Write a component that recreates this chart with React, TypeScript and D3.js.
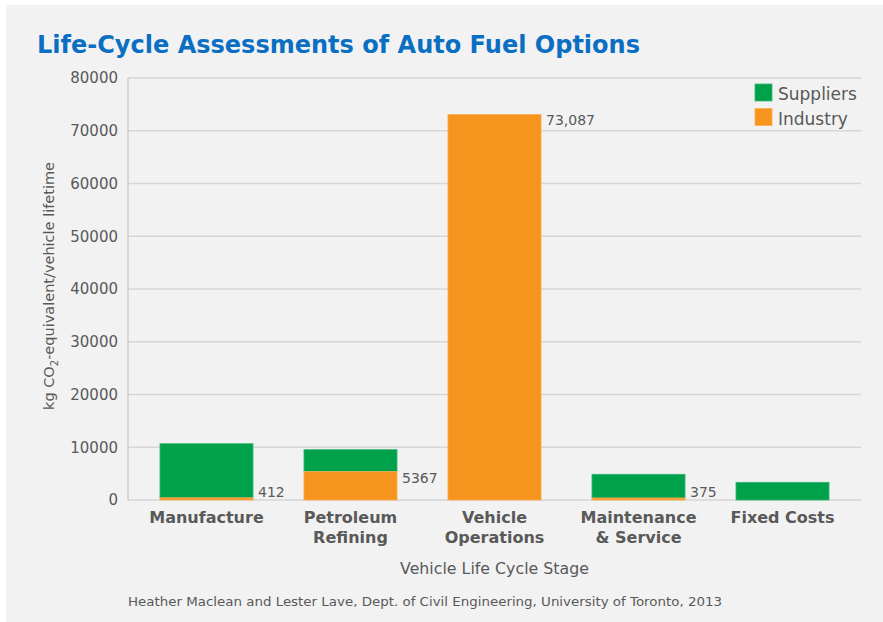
import React from "react";
import * as d3 from "d3";

const categories = ["Manufacture", "Petroleum Refining", "Vehicle Operations", "Maintenance & Service", "Fixed Costs"];
const categoryLines = [["Manufacture"], ["Petroleum", "Refining"], ["Vehicle", "Operations"], ["Maintenance", "& Service"], ["Fixed Costs"]];
const industry = [412, 5367, 73087, 375, 0];
const suppliers = [10260, 4170, 0, 4500, 3355];
const industryLabels = ["412", "5367", "73,087", "375", ""];
const yTicks = [0, 10000, 20000, 30000, 40000, 50000, 60000, 70000, 80000];
const seriesNames = ["Suppliers", "Industry"];

const W = 883;
const H = 622;
const FONT = "'DejaVu Sans', Verdana, sans-serif";
const GREEN = "#00a14b";
const ORANGE = "#f7941d";
const TEXT = "#595959";

export default function App() {
  const left = 128;
  const right = 861;
  const top = 78;
  const bottom = 500;
  const x = d3.scaleBand<string>().domain(categories).range([left, right]).paddingInner(0.354).paddingOuter(0.222);
  const y = d3.scaleLinear().domain([0, 80000]).range([bottom, top]);
  const bw = x.bandwidth();

  return (
    <div style={{ position: "absolute", left: 0, top: 0 }}>
      <svg width={W} height={H} style={{ display: "block", fontFamily: FONT }}>
        <rect x={0} y={0} width={W} height={H} fill="#ffffff" />
        <rect x={6} y={5} width={W - 6} height={H - 5} fill="#f2f2f2" />
        <text x={37} y={53} fill="#0a6fc2" fontWeight="bold" fontSize={24} textLength={603} lengthAdjust="spacingAndGlyphs">
          Life-Cycle Assessments of Auto Fuel Options
        </text>

        {yTicks.map((t) => (
          <g key={t}>
            <line x1={left} x2={right} y1={y(t)} y2={y(t)} stroke="#d6d6d6" strokeWidth={1.3} />
            <text x={118} y={y(t)} dy="0.35em" textAnchor="end" fontSize={15} fill={TEXT}>
              {t}
            </text>
          </g>
        ))}
        <line x1={left} x2={left} y1={top} y2={bottom} stroke="#c8c8c8" strokeWidth={1.3} />

        {categories.map((c, i) => {
          const x0 = x(c) as number;
          const ind = industry[i];
          const sup = suppliers[i];
          return (
            <g key={c}>
              {sup > 0 && (
                <rect x={x0} y={y(ind + sup)} width={bw} height={y(ind) - y(ind + sup)} fill={GREEN} stroke="#3cb570" strokeWidth={0.8} />
              )}
              {ind > 0 && (
                <rect x={x0} y={y(ind)} width={bw} height={y(0) - y(ind)} fill={ORANGE} stroke="#f9ad55" strokeWidth={0.8} />
              )}
              {industryLabels[i] && (
                <text x={x0 + bw + 5} y={Math.min(y(ind) + 11, 497)} fontSize={14} fill={TEXT}>
                  {industryLabels[i]}
                </text>
              )}
              {categoryLines[i].map((ln, j) => (
                <text key={j} x={x0 + bw / 2} y={523 + j * 20} textAnchor="middle" fontSize={16} fontWeight="bold" fill={TEXT}>
                  {ln}
                </text>
              ))}
            </g>
          );
        })}

        <text x={(left + right) / 2} y={574} textAnchor="middle" fontSize={15.8} fill={TEXT}>
          Vehicle Life Cycle Stage
        </text>

        <text transform="translate(54,286) rotate(-90)" textAnchor="middle" fontSize={14.5} fill={TEXT}>
          kg CO<tspan dy={4} fontSize={10}>2</tspan>
          <tspan dy={-4}>-equivalent/vehicle lifetime</tspan>
        </text>

        {seriesNames.map((s, i) => (
          <g key={s}>
            <rect x={755} y={84 + i * 24.5} width={17} height={17} fill={i === 0 ? GREEN : ORANGE} stroke={i === 0 ? "#3cb570" : "#f9ad55"} strokeWidth={0.8} />
            <text x={778} y={100 + i * 24.5} fontSize={17} fill={TEXT}>
              {s}
            </text>
          </g>
        ))}

        <text x={128} y={606} fontSize={11.5} fill={TEXT} textLength={594} lengthAdjust="spacingAndGlyphs">
          Heather Maclean and Lester Lave, Dept. of Civil Engineering, University of Toronto, 2013
        </text>
      </svg>
    </div>
  );
}
